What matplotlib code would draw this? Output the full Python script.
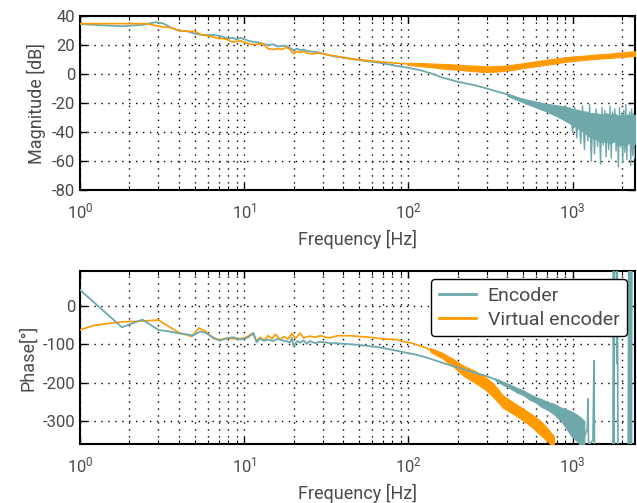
import numpy as np
import matplotlib
matplotlib.use('Agg')
import matplotlib.pyplot as plt


# Magnitude, encoder (clean part, noisy band body and spikes)
enc_mag_f = [1.0, 1.8, 2.4, 2.9, 3.2, 3.6, 4.0, 4.5, 5.0, 5.5, 6.0, 6.5, 7.0, 7.5, 8.0, 8.5,
             9.0, 9.5, 10, 11, 12, 13, 14, 15, 16, 17, 18, 19, 20, 21, 22, 23, 24, 26, 28, 30,
             33, 36, 40, 45, 50, 55, 60, 67, 75, 85, 100, 120, 140, 160, 200, 250, 300, 400, 500]
enc_mag = [34.5, 33.0, 34.0, 35.8, 35.0, 32.0, 30.0, 29.5, 28.0, 27.0, 27.0, 27.0, 26.5, 25.5,
           24.5, 25.0, 24.0, 25.0, 24.0, 22.5, 22.0, 21.0, 20.0, 20.5, 19.0, 19.5, 19.5, 18.0,
           16.5, 17.5, 16.5, 17.0, 16.0, 15.5, 15.0, 14.3, 13.0, 12.0, 11.5, 10.5, 9.7, 9.0, 8.5,
           7.8, 6.8, 5.6, 4.4, 2.5, 0.2, -2.3, -5.3, -7.5, -9.9, -14.0, -18.0]
enc_band_f = [400, 500, 600, 700, 800, 900, 1000, 1100, 1200, 1300, 1400, 1500, 1600, 1700,
              1800, 1900, 2000, 2100, 2200, 2300, 2400]
enc_band_hi = [-13.5, -17.0, -19.0, -20.5, -21.5, -22.5, -24, -25, -26, -27, -27, -28, -27,
               -28, -27, -29, -28, -29, -28, -29, -28]
enc_band_lo = [-15.0, -19.5, -23.0, -26.0, -29.0, -32.0, -35, -38, -41, -44, -45, -47, -46,
               -48, -46, -49, -48, -50, -47, -50, -48]
enc_spike_f = [900, 930, 960, 1000, 1030, 1060, 1090, 1120, 1150, 1180, 1210, 1240, 1270, 1300,
               1330, 1360, 1390, 1420, 1450, 1480, 1510, 1540, 1570, 1600, 1630, 1660, 1690,
               1720, 1750, 1780, 1810, 1840, 1870, 1900, 1930, 1960, 1990, 2020, 2050, 2080,
               2110, 2140, 2170, 2200, 2230, 2260, 2290, 2320, 2350, 2380]
enc_spike = [-22, -33, -23, -40, -23, -44, -25, -48, -22, -52, -26, -46, -21, -60, -27, -55,
             -24, -50, -28, -62, -23, -49, -25, -57, -29, -52, -22, -58, -26, -47, -24, -53,
             -30, -64, -23, -50, -27, -61, -25, -54, -21, -59, -28, -48, -26, -63, -24, -56,
             -27, -58]

# Magnitude, virtual encoder
vir_mag_f = [1, 1.5, 2.0, 2.5, 2.9, 3.2, 3.6, 4.0, 4.5, 5.0, 5.5, 6.0, 6.5, 7.0, 7.5, 8.0, 8.5,
             9.0, 9.5, 10, 11, 12, 13, 14, 15, 16, 17, 18, 19, 20, 21, 22, 23, 24, 26, 28, 30,
             33, 36, 40, 45, 50, 55, 60, 67, 75, 85, 100]
vir_mag = [34.8, 34.8, 34.8, 34.8, 33.5, 32.5, 32.0, 30.0, 29.5, 29.5, 27.0, 26.5, 25.5, 24.5,
           24.5, 23.5, 22.0, 22.5, 23.0, 22.0, 20.5, 20.5, 21.0, 17.5, 17.0, 17.5, 17.0, 18.5,
           17.0, 14.0, 15.5, 15.0, 15.8, 14.5, 14.0, 14.5, 14.0, 13.0, 12.5, 11.5, 10.5, 10.0,
           9.5, 9.0, 8.5, 8.0, 7.5, 7.0]
vir_band_f = [100, 120, 140, 160, 180, 200, 230, 260, 300, 350, 400, 450, 500, 560, 630, 700,
              800, 900, 1000, 1150, 1300, 1500, 1700, 1900, 2100, 2400]
vir_band_hi = [7.8, 7.6, 7.3, 7.0, 6.8, 6.5, 6.0, 5.8, 5.3, 5.6, 6.0, 6.8, 7.5, 8.4, 9.2, 10.0,
               10.8, 11.5, 12.2, 12.6, 13.2, 13.8, 14.2, 14.8, 15.2, 15.8]
vir_band_lo = [6.3, 5.4, 4.7, 3.9, 3.4, 3.0, 2.4, 1.8, 1.5, 1.8, 2.5, 3.2, 4.2, 5.0, 5.8, 6.6,
               7.5, 8.5, 9.0, 9.7, 10.3, 10.8, 11.2, 11.7, 12.0, 12.5]

# Phase, encoder
enc_ph_f = [1, 1.8, 2.4, 3.0, 3.5, 4.0, 4.9, 5.4, 5.8, 6.3, 7.1, 7.5, 8.0, 8.6, 9.0, 9.5, 10,
            10.5, 11.4, 11.9, 12.5, 13.2, 14, 15, 16, 17, 18, 19, 19.5, 20, 21, 22, 23, 24, 25,
            27, 29, 33, 37, 44, 50, 58, 66, 74, 85, 94, 105, 113, 125, 136, 160, 190, 216, 250,
            294, 340, 378]
enc_ph = [41, -56, -36, -63, -67, -72, -77, -67, -70, -80, -91, -87, -84, -82, -85, -88, -85,
          -83, -71, -95, -86, -91, -88, -92, -86, -90, -92, -96, -83, -106, -92, -96, -90, -99,
          -92, -97, -94, -97, -98, -100, -102, -105, -108, -112, -117, -121, -125, -128, -133,
          -138, -148, -158, -165, -173, -182, -192, -203]
enc_ph_band_f = [340, 378, 420, 460, 500, 550, 600, 640, 700, 770, 850, 920, 980, 1050, 1115,
                 1180]
enc_ph_band_hi = [-189, -198, -206, -214, -220, -230, -238, -242, -250, -255, -265, -270, -275,
                  -282, -290, -300]
enc_ph_band_lo = [-195, -206, -216, -226, -232, -245, -252, -262, -270, -282, -300, -320, -338,
                  -350, -362, -365]
enc_ph_hf_f = [1180, 1230, 1240, 1250, 1330, 1350, 1360, 1380, 1760, 1775, 1790, 1800, 1850,
               1860, 1870, 1890, 2180, 2200, 2220, 2260, 2280, 2300]
enc_ph_hf = [-340, -320, -242, -362, -350, -143, -365, -400, -400, 200, -400, 200, 200, -150,
             200, -400, -400, 200, -400, 200, -400, 200]

# Phase, virtual encoder
vir_ph_f = [1, 1.2, 1.5, 1.8, 2.4, 3.0, 3.5, 4.0, 4.8, 5.3, 5.8, 6.5, 7.0, 7.5, 8.0, 8.6, 9.5,
            10, 10.5, 11.2, 11.9, 12.5, 13.2, 14, 14.8, 15.5, 16.5, 17.5, 18.5, 19.5, 20.5, 21.9,
            23, 25, 27, 29, 33, 37, 44, 50, 58, 66, 74, 85, 94, 105, 113, 125, 136]
vir_ph = [-63, -52, -46, -42, -40, -37, -55, -70, -80, -58, -66, -85, -88, -86, -84, -86, -85,
          -84, -80, -72, -92, -82, -90, -78, -86, -74, -88, -80, -87, -72, -85, -71, -84, -79,
          -82, -78, -84, -78, -78, -80, -82, -85, -87, -88, -94, -97, -102, -108, -115]
vir_ph_band_f = [136, 160, 190, 216, 250, 294, 330, 378, 430, 500, 570, 640, 700, 770]
vir_ph_band_hi = [-110, -122, -140, -156, -168, -186, -203, -234, -250, -268, -284, -300, -318,
                  -340]
vir_ph_band_lo = [-120, -136, -160, -182, -198, -218, -238, -266, -280, -298, -317, -337, -352,
                  -368]

teal = '#6fa8ab'
orange = '#ff9a00'
txt = '#4a4a4a'

plt.rcParams['font.family'] = ['Roboto', 'DejaVu Sans']
plt.rcParams['mathtext.fontset'] = 'custom'
plt.rcParams['mathtext.rm'] = 'Roboto'
plt.rcParams['axes.unicode_minus'] = False
plt.rcParams['xtick.direction'] = 'in'
plt.rcParams['ytick.direction'] = 'in'

dots = (0, (1, 4))


def style_axes(ax):
    ax.set_xscale('log')
    ax.set_xlim(1, 2400)
    ax.grid(True, which='major', color='black', linestyle=dots, linewidth=1.0)
    ax.grid(True, which='minor', axis='x', color='black', linestyle=dots, linewidth=1.0)
    for s in ax.spines.values():
        s.set_linewidth(1.5)
    ax.tick_params(which='both', top=True, right=True, colors='black', labelcolor=txt,
                   labelsize=12)
    ax.tick_params(which='major', length=5, width=1)
    ax.tick_params(which='minor', length=3, width=0.8)
    ax.tick_params(axis='x', pad=8)
    ax.set_xlabel('Frequency [Hz]', fontsize=13, color=txt, labelpad=6)


fig = plt.figure(figsize=(6.37, 5.03), dpi=100)
ax1 = fig.add_axes([0.1256, 0.622, 0.8713, 0.346])
ax2 = fig.add_axes([0.1256, 0.117, 0.8713, 0.344])

# Magnitude
ax1.plot(enc_mag_f, enc_mag, color=teal, lw=1.3, zorder=3)
ax1.fill_between(enc_band_f, enc_band_lo, enc_band_hi, color=teal, lw=0.8, zorder=3)
ax1.plot(enc_spike_f, enc_spike, color=teal, lw=1.0, zorder=3)
ax1.plot(vir_mag_f, vir_mag, color=orange, lw=1.2, zorder=4)
ax1.fill_between(vir_band_f, vir_band_lo, vir_band_hi, color=orange, lw=0.8, zorder=4)
ax1.set_ylim(-80, 40)
ax1.set_yticks([40, 20, 0, -20, -40, -60, -80])
ax1.set_ylabel('Magnitude [dB]', fontsize=13, color=txt)
style_axes(ax1)

# Phase
ax2.plot(vir_ph_f, vir_ph, color=orange, lw=1.2, zorder=3, label='Virtual encoder')
ax2.fill_between(vir_ph_band_f, vir_ph_band_lo, vir_ph_band_hi, color=orange, lw=0.8, zorder=3)
ax2.plot(enc_ph_f, enc_ph, color=teal, lw=1.3, zorder=4, label='Encoder')
ax2.fill_between(enc_ph_band_f, enc_ph_band_lo, enc_ph_band_hi, color=teal, lw=0.8, zorder=4)
ax2.plot(enc_ph_hf_f, enc_ph_hf, color=teal, lw=1.2, zorder=4)
ax2.set_ylim(-360, 90)
ax2.set_yticks([0, -100, -200, -300])
ax2.set_ylabel('Phase[°]', fontsize=13, color=txt)
style_axes(ax2)

handles, labels = ax2.get_legend_handles_labels()
leg = ax2.legend(handles[::-1], labels[::-1], loc='upper right', fontsize=14,
                 bbox_to_anchor=(0.986, 0.955), borderaxespad=0, framealpha=1, fancybox=True,
                 edgecolor='black', handlelength=1.9, borderpad=0.4, labelspacing=0.3,
                 handletextpad=0.6)
leg.get_frame().set_linewidth(1.0)
for t in leg.get_texts():
    t.set_color(txt)
for h in leg.get_lines():
    h.set_linewidth(2)

fig.savefig('out.png', dpi=100)
